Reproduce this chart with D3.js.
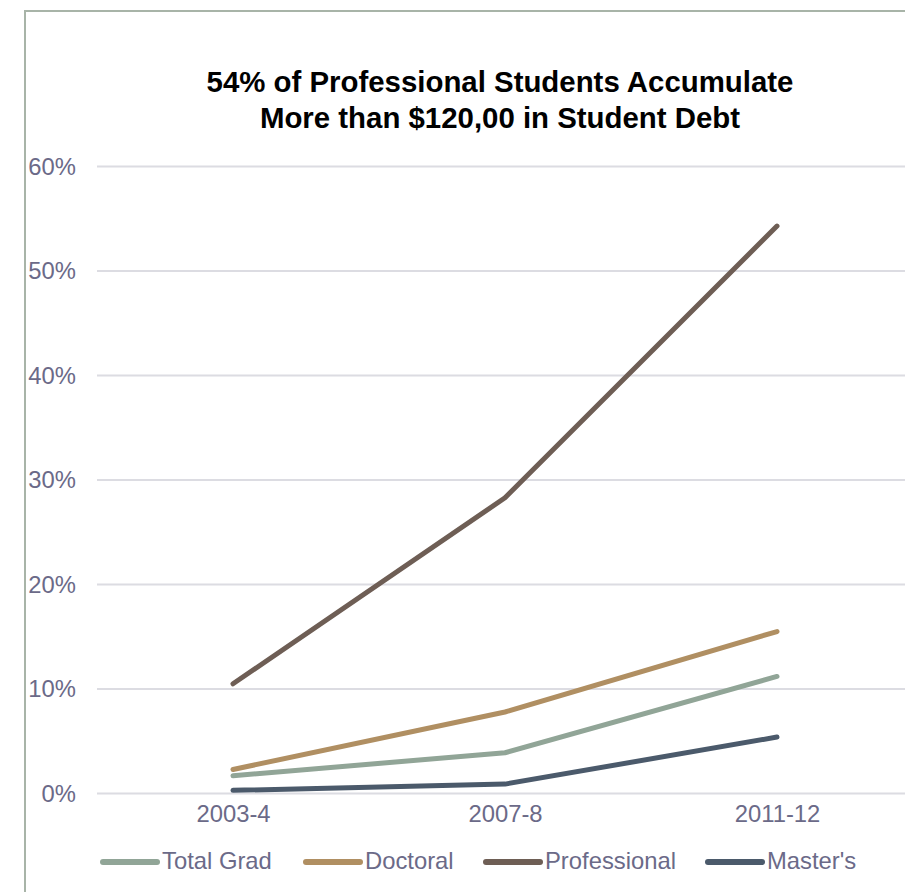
<!DOCTYPE html>
<html><head><meta charset="utf-8">
<script src="https://cdn.jsdelivr.net/npm/d3@7"></script>
<style>html,body{margin:0;padding:0;background:#fff;overflow:hidden}</style>
</head><body>
<svg id="chart" width="905" height="892"></svg>
<script>
const categories = ["2003-4", "2007-8", "2011-12"];
const seriesNames = ["Total Grad", "Doctoral", "Professional", "Master's"];
const totalGrad = [1.7, 3.9, 11.2];
const doctoral = [2.3, 7.8, 15.5];
const professional = [10.5, 28.3, 54.3];
const masters = [0.3, 0.9, 5.4];
const yTicks = [0, 10, 20, 30, 40, 50, 60];
const colors = ["#91a597", "#b08f62", "#6e5e55", "#4b5a6b"];
const titleLines = ["54% of Professional Students Accumulate", "More than $120,00 in Student Debt"];

const series = [totalGrad, doctoral, professional, masters];
const svg = d3.select("#chart");
const font = "'Liberation Sans', Arial, sans-serif";
const textColor = "#6b6a88";
const fs = "23.8px";

// border frame
svg.append("path").attr("d", "M25,892 V11 H905").attr("fill", "none")
  .attr("stroke", "#a8b4a8").attr("stroke-width", 2);

const x = d3.scalePoint().domain(categories).range([97, 913]).padding(0.5);
const y = d3.scaleLinear().domain([0, 60]).range([793.5, 166.5]);

// gridlines
svg.append("g").selectAll("line").data(yTicks).join("line")
  .attr("x1", 97).attr("x2", 905)
  .attr("y1", d => y(d)).attr("y2", d => y(d))
  .attr("stroke", "#dcdce2").attr("stroke-width", 2);

// y axis
const yAxis = svg.append("g").attr("transform", "translate(76,0)")
  .call(d3.axisLeft(y).tickValues(yTicks).tickFormat(d => d + "%").tickSize(0).tickPadding(0));
yAxis.select(".domain").remove();
yAxis.selectAll("text").attr("fill", textColor).style("font-family", font).style("font-size", fs);

// x axis
const xAxis = svg.append("g").attr("transform", "translate(0,805)")
  .call(d3.axisBottom(x).tickSize(0).tickPadding(0));
xAxis.select(".domain").remove();
xAxis.selectAll("text").attr("fill", textColor).style("font-family", font).style("font-size", fs)
  .attr("dy", "0.71em");

// lines
const line = d3.line().x((d, i) => x(categories[i])).y(d => y(d));
svg.append("g").selectAll("path").data(series).join("path")
  .attr("d", d => line(d)).attr("fill", "none")
  .attr("stroke", (d, i) => colors[i]).attr("stroke-width", 5)
  .attr("stroke-linecap", "round").attr("stroke-linejoin", "round");

// title
svg.append("text").attr("x", 500).attr("y", 92).attr("text-anchor", "middle")
  .style("font-family", font).style("font-size", "29.4px").style("font-weight", "bold")
  .attr("fill", "#000")
  .selectAll("tspan").data(titleLines).join("tspan")
  .attr("x", 500).attr("dy", (d, i) => i === 0 ? 0 : 36).text(d => d);

// legend
const legendX = [103, 306, 486, 708];
const lg = svg.append("g").selectAll("g").data(seriesNames).join("g")
  .attr("transform", (d, i) => `translate(${legendX[i]},862)`);
lg.append("line").attr("x1", 0).attr("x2", 54).attr("y1", 0).attr("y2", 0)
  .attr("stroke", (d, i) => colors[i]).attr("stroke-width", 6).attr("stroke-linecap", "round");
lg.append("text").attr("x", 59).attr("y", 7).text(d => d)
  .attr("fill", textColor).style("font-family", font).style("font-size", fs);
</script>
</body></html>
